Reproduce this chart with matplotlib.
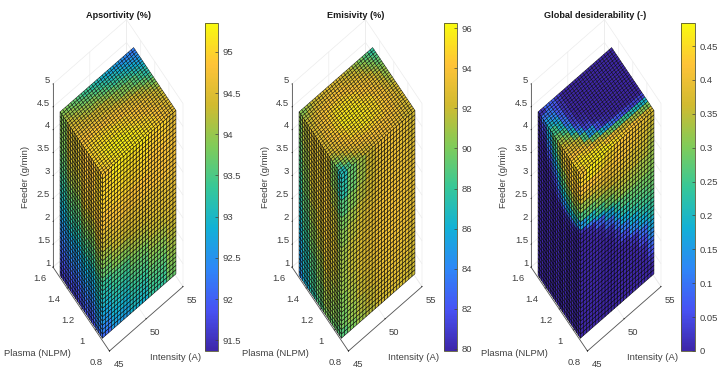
import numpy as np
import matplotlib
matplotlib.use("Agg")
import matplotlib.pyplot as plt
from matplotlib.colors import LinearSegmentedColormap, Normalize
from matplotlib.cm import ScalarMappable
from mpl_toolkits.mplot3d import proj3d

plt.rcParams['font.family'] = ['Liberation Sans', 'DejaVu Sans']
plt.rcParams['font.size'] = 6.8

W, H = 724, 376

# axis ranges and ticks
intensity_ticks = [45, 50, 55]
plasma_ticks = [0.8, 1, 1.2, 1.4, 1.6]
feeder_ticks = [1, 1.5, 2, 2.5, 3, 3.5, 4, 4.5, 5]
intensity_labels = ['45', '50', '55']
plasma_labels = ['0.8', '1', '1.2', '1.4', '1.6']
feeder_labels = ['1', '1.5', '2', '2.5', '3', '3.5', '4', '4.5', '5']

# the block that is sliced
box_intensity = [45, 55]
box_plasma = [0.9, 1.5]
box_feeder = [1.05, 4.62]

titles = ['Apsortivity (%)', 'Emisivity (%)', 'Global desiderability (-)']
cbar_limits = [(91.37, 95.35), (79.9, 96.25), (0, 0.484)]
cbar_ticks = [
    [91.5, 92, 92.5, 93, 93.5, 94, 94.5, 95],
    [80, 82, 84, 86, 88, 90, 92, 94, 96],
    [0, 0.05, 0.1, 0.15, 0.2, 0.25, 0.3, 0.35, 0.4, 0.45],
]
cbar_labels = [
    ['91.5', '92', '92.5', '93', '93.5', '94', '94.5', '95'],
    ['80', '82', '84', '86', '88', '90', '92', '94', '96'],
    ['0', '0.05', '0.1', '0.15', '0.2', '0.25', '0.3', '0.35', '0.4', '0.45'],
]

# top faces: rows go from plasma 0.9 to 1.5, columns from intensity 45 to 55
apsort_top = [
    [94.9, 95.0, 95.1, 95.15, 95.2, 95.2, 95.2, 95.15, 95.1, 95.0, 94.9, 94.75, 94.6],
    [95.0, 95.05, 95.15, 95.2, 95.25, 95.2, 95.2, 95.15, 95.05, 95.0, 94.85, 94.7, 94.55],
    [95.0, 95.1, 95.2, 95.25, 95.3, 95.25, 95.2, 95.1, 95.0, 94.9, 94.8, 94.65, 94.5],
    [95.0, 95.1, 95.15, 95.2, 95.2, 95.15, 95.1, 95.0, 94.9, 94.8, 94.7, 94.55, 94.4],
    [95.0, 95.05, 95.1, 95.1, 95.1, 95.05, 95.0, 94.9, 94.8, 94.7, 94.6, 94.45, 94.3],
    [94.9, 95.0, 95.0, 95.0, 94.95, 94.9, 94.85, 94.75, 94.65, 94.5, 94.4, 94.25, 94.05],
    [94.8, 94.85, 94.9, 94.85, 94.8, 94.75, 94.7, 94.6, 94.5, 94.35, 94.2, 94.0, 93.8],
    [94.7, 94.7, 94.7, 94.65, 94.6, 94.5, 94.45, 94.3, 94.2, 94.05, 93.9, 93.7, 93.5],
    [94.6, 94.55, 94.5, 94.45, 94.4, 94.3, 94.2, 94.05, 93.9, 93.75, 93.6, 93.4, 93.2],
    [94.45, 94.35, 94.25, 94.15, 94.15, 94.0, 93.9, 93.75, 93.6, 93.45, 93.3, 93.1, 92.95],
    [94.3, 94.2, 94.1, 94.0, 93.9, 93.75, 93.6, 93.45, 93.3, 93.15, 93.0, 92.85, 92.7],
    [94.1, 94.0, 93.9, 93.75, 93.65, 93.5, 93.35, 93.2, 93.05, 92.9, 92.75, 92.6, 92.5],
    [93.9, 93.8, 93.7, 93.55, 93.4, 93.25, 93.1, 92.95, 92.8, 92.65, 92.5, 92.4, 92.3],
]
emis_top = [
    [87, 88.8, 90.5, 91.5, 92.5, 93, 93.5, 93.6, 93.7, 93.4, 93, 92.6, 92.3],
    [88.8, 90.5, 91.5, 92.4, 93.3, 93.7, 94, 94, 94, 93.7, 93.4, 92.9, 92.4],
    [90.5, 91.5, 92.5, 93.3, 94, 94.3, 94.5, 94.4, 94.3, 94, 93.7, 93.1, 92.5],
    [91.5, 92.4, 93.2, 94, 94.5, 94.8, 95, 94.9, 94.7, 94.3, 93.9, 93.2, 92.5],
    [92.5, 93.2, 93.8, 94.5, 95, 95.3, 95.5, 95.3, 95, 94.5, 94, 93.3, 92.5],
    [92.8, 93.5, 94.2, 94.9, 95.4, 95.6, 95.6, 95.4, 95, 94.5, 93.9, 93.1, 92.2],
    [93, 93.8, 94.5, 95.1, 95.7, 95.7, 95.7, 95.4, 95, 94.4, 93.8, 92.8, 91.8],
    [92.9, 93.7, 94.4, 95, 95.5, 95.5, 95.5, 95.2, 94.7, 94, 93.4, 92.3, 91.3],
    [92.8, 93.6, 94.3, 94.8, 95.3, 95.3, 95.2, 94.8, 94.3, 93.7, 93, 91.9, 90.8],
    [92.4, 93.2, 93.9, 94.4, 94.8, 94.8, 94.6, 94.2, 93.7, 93, 92.2, 91.2, 90.2],
    [92, 92.8, 93.5, 93.9, 94.3, 94.2, 94, 93.5, 93, 92.3, 91.5, 90.5, 89.5],
    [91.3, 92, 92.7, 93.1, 93.5, 93.5, 93.4, 92.9, 92.4, 91.6, 90.8, 89.8, 88.8],
    [90.5, 91.3, 92, 92.4, 92.8, 92.8, 92.8, 92.3, 91.7, 90.9, 90, 89, 88],
]
desir_top = [
    [.43, .45, .46, .47, .47, .46, .45, .44, .43, .42, .40, .38, .37],
    [.45, .46, .46, .46, .45, .43, .41, .38, .36, .34, .33, .31, .30],
    [.44, .45, .44, .42, .38, .34, .30, .27, .25, .23, .21, .20, .19],
    [.42, .42, .40, .35, .28, .20, .14, .10, .07, .05, .04, .04, .04],
    [.39, .38, .35, .26, .15, .06, .02, .01, 0, 0, 0, 0, 0],
    [.36, .34, .28, .15, .05, .01, 0, 0, 0, 0, 0, 0, 0],
    [.33, .30, .20, .08, .02, 0, 0, 0, 0, 0, 0, 0, 0],
    [.29, .25, .14, .04, .01, 0, 0, 0, 0, 0, 0, 0, 0],
    [.25, .20, .10, .03, 0, 0, 0, 0, 0, 0, 0, 0, 0],
    [.20, .16, .08, .02, 0, 0, 0, 0, 0, 0, 0, 0, 0],
    [.15, .12, .07, .02, 0, 0, 0, 0, 0, 0, 0, 0, 0],
    [.10, .10, .06, .02, 0, 0, 0, 0, 0, 0, 0, 0, 0],
    [.02, .08, .07, .03, 0, 0, 0, 0, 0, 0, 0, 0, 0],
]

# right faces (plasma 0.9): rows go from the top of the block down, columns intensity 45 to 55
apsort_right = [
    [94.9, 95.2, 95.2, 95.0, 94.6],
    [95.0, 95.15, 95.1, 94.95, 94.65],
    [95.0, 95.1, 95.05, 94.9, 94.7],
    [95.0, 95.05, 95.0, 94.85, 94.75],
    [94.95, 95.0, 94.95, 94.8, 94.75],
    [94.85, 94.9, 94.85, 94.8, 94.75],
    [94.75, 94.8, 94.8, 94.8, 94.75],
    [94.6, 94.7, 94.7, 94.7, 94.7],
    [94.45, 94.6, 94.6, 94.6, 94.65],
    [94.3, 94.45, 94.5, 94.55, 94.6],
    [94.1, 94.3, 94.4, 94.5, 94.55],
    [93.9, 94.1, 94.25, 94.4, 94.5],
    [93.7, 93.9, 94.1, 94.3, 94.45],
    [93.5, 93.7, 93.95, 94.2, 94.4],
    [93.3, 93.5, 93.8, 94.1, 94.3],
    [93.15, 93.35, 93.65, 93.95, 94.2],
    [93.0, 93.2, 93.5, 93.8, 94.1],
    [92.8, 93.05, 93.35, 93.65, 94.0],
    [92.6, 92.9, 93.2, 93.5, 93.9],
    [92.35, 92.75, 93.05, 93.4, 93.8],
    [92.1, 92.6, 92.9, 93.3, 93.7],
]
emis_right = [
    [87, 89.5, 91, 92.3, 93.5, 93.6, 93.5, 93, 92.3],
    [87.5, 89.5, 91, 92.2, 93, 93.3, 93.5, 93.1, 92.5],
    [89, 90.3, 91.5, 92.3, 93, 93.3, 93.5, 93.2, 92.8],
    [90, 91, 92, 92.7, 93.3, 93.4, 93.5, 93.3, 93],
    [90.5, 91.5, 92.3, 93, 93.5, 93.6, 93.7, 93.4, 93],
    [91, 91.8, 92.5, 93, 93.5, 93.6, 93.7, 93.4, 93],
    [91, 91.8, 92.5, 93, 93.5, 93.6, 93.7, 93.4, 93],
    [90.7, 91.5, 92.3, 92.8, 93.3, 93.4, 93.5, 93.2, 92.8],
    [90.3, 91.2, 92, 92.5, 93, 93.2, 93.3, 93, 92.5],
    [89.8, 90.7, 91.5, 92, 92.6, 92.8, 93, 92.6, 92.2],
    [89, 90, 91, 91.6, 92.2, 92.4, 92.6, 92.3, 92],
]
desir_right = [
    [.43, .47, .47, .45, .43, .42, .40, .39, .37],
    [.44, .46, .45, .44, .43, .41, .40, .38, .36],
    [.42, .42, .43, .43, .42, .41, .39, .37, .35],
    [.37, .38, .39, .40, .40, .39, .37, .36, .34],
    [.32, .33, .35, .37, .38, .37, .36, .35, .33],
    [.26, .28, .31, .33, .35, .35, .34, .33, .32],
    [.15, .20, .25, .29, .32, .33, .32, .32, .31],
    [.02, .10, .18, .24, .28, .30, .30, .30, .30],
    [0, .01, .08, .17, .23, .27, .28, .29, .29],
    [0, 0, .01, .09, .17, .23, .26, .27, .28],
    [0, 0, 0, .02, .10, .18, .23, .25, .26],
    [0, 0, 0, 0, .03, .11, .18, .22, .24],
    [0, 0, 0, 0, .01, .05, .13, .18, .22],
    [0, 0, 0, 0, 0, .01, .07, .14, .19],
    [0, 0, 0, 0, 0, 0, .02, .09, .17],
    [0, 0, 0, 0, 0, 0, 0, .05, .13],
    [0, 0, 0, 0, 0, 0, 0, .01, .09],
    [0, 0, 0, 0, 0, 0, 0, 0, .06],
    [0, 0, 0, 0, 0, 0, 0, 0, .02],
    [0, 0, 0, 0, 0, 0, 0, 0, 0],
    [0, 0, 0, 0, 0, 0, 0, 0, 0],
]

# left faces (intensity 45): rows from the top down, columns plasma 0.9 to 1.5
apsort_left = [
    [94.9, 94.8, 94.4, 93.9],
    [95.0, 94.8, 94.4, 93.9],
    [95.0, 94.8, 94.4, 93.9],
    [95.0, 94.75, 94.35, 93.85],
    [95.0, 94.7, 94.3, 93.8],
    [94.9, 94.6, 94.2, 93.7],
    [94.8, 94.5, 94.1, 93.6],
    [94.65, 94.35, 93.95, 93.5],
    [94.5, 94.2, 93.8, 93.4],
    [94.3, 94.0, 93.65, 93.25],
    [94.1, 93.8, 93.5, 93.1],
    [93.9, 93.6, 93.3, 92.95],
    [93.7, 93.4, 93.1, 92.8],
    [93.5, 93.2, 92.9, 92.65],
    [93.3, 93.0, 92.7, 92.5],
    [93.15, 92.8, 92.55, 92.35],
    [93.0, 92.6, 92.4, 92.2],
    [92.8, 92.4, 92.2, 92.05],
    [92.6, 92.2, 92.0, 91.9],
    [92.35, 92.0, 91.8, 91.7],
    [92.1, 91.8, 91.6, 91.5],
]
emis_left = [
    [87, 90, 92.5, 92.8, 93, 91.8, 90.5],
    [87.5, 90.3, 92.5, 92.7, 92.8, 91.5, 90],
    [89, 91.2, 93, 92.8, 92.5, 91, 89.3],
    [90, 91.8, 93.2, 92.8, 92.2, 90.5, 88.7],
    [90.5, 92, 93.2, 92.5, 91.8, 90, 88],
    [91, 92.2, 93, 92.2, 91.2, 89.3, 87.3],
    [91, 92, 92.7, 91.7, 90.5, 88.6, 86.6],
    [90.7, 91.6, 92.2, 91, 89.8, 88, 86],
    [90.3, 91, 91.7, 90.4, 89, 87.2, 85.4],
    [89.8, 90.5, 91, 89.7, 88.4, 86.7, 85],
    [89, 89.6, 90, 88.8, 87.6, 86, 84.4],
]
desir_left = [
    [.43, .45, .44, .40, .35, .28, .20, .10, .01],
    [.44, .44, .42, .38, .32, .25, .16, .05, 0],
    [.42, .43, .40, .35, .28, .21, .11, .02, 0],
    [.37, .39, .36, .31, .24, .15, .06, 0, 0],
    [.32, .34, .31, .26, .19, .10, .02, 0, 0],
    [.26, .28, .25, .20, .13, .05, 0, 0, 0],
    [.15, .20, .18, .13, .07, .02, 0, 0, 0],
    [.02, .09, .09, .06, .02, 0, 0, 0, 0],
    [0, .01, .02, .01, 0, 0, 0, 0, 0],
    [0, 0, 0, 0, 0, 0, 0, 0, 0],
    [0, 0, 0, 0, 0, 0, 0, 0, 0],
    [0, 0, 0, 0, 0, 0, 0, 0, 0],
    [0, 0, 0, 0, 0, 0, 0, 0, 0],
    [0, 0, 0, 0, 0, 0, 0, 0, 0],
    [0, 0, 0, 0, 0, 0, 0, 0, 0],
    [0, 0, 0, 0, 0, 0, 0, 0, 0],
    [0, 0, 0, 0, 0, 0, 0, 0, 0],
    [0, 0, 0, 0, 0, 0, 0, 0, 0],
    [0, 0, 0, 0, 0, 0, 0, 0, 0],
    [0, 0, 0, 0, 0, 0, 0, 0, 0],
    [0, 0, 0, 0, 0, 0, 0, 0, 0],
]

tops = [apsort_top, emis_top, desir_top]
rights = [apsort_right, emis_right, desir_right]
lefts = [apsort_left, emis_left, desir_left]

# parula
parula = LinearSegmentedColormap.from_list('parula', [
    (0.0, (0.2422, 0.1504, 0.6603)),
    (0.125, (0.2810, 0.3228, 0.9579)),
    (0.25, (0.1786, 0.5289, 0.9682)),
    (0.375, (0.0689, 0.6948, 0.8394)),
    (0.5, (0.2161, 0.7843, 0.5923)),
    (0.625, (0.5044, 0.7993, 0.3480)),
    (0.75, (0.8185, 0.7327, 0.1882)),
    (0.875, (0.9990, 0.7653, 0.2164)),
    (1.0, (0.9763, 0.9831, 0.0538)),
])

n_i, n_p, n_z = 24, 24, 38  # mesh cells along each side
n_top = 28
TEXT = '#404040'
offsets = [0, 239, 478]
cbar_x = [(205, 218), (444, 457), (681, 695)]
feeder_x = [26, 265, 503]
plasma_x = [37, 275, 514]
intensity_x = [176, 414, 653]
title_x = [118, 356, 595]


def pick(table, rows, cols):
    # every mesh cell takes the colour of the table entry it falls in
    table = np.asarray(table, dtype=float)
    r = np.round(np.arange(rows) / (rows - 1) * (table.shape[0] - 1)).astype(int)
    c = np.round(np.arange(cols) / (cols - 1) * (table.shape[1] - 1)).astype(int)
    return table[np.ix_(r, c)]


def face(ax, X, Y, Z, vals, norm, lw=0.36):
    ax.plot_surface(X, Y, Z, facecolors=parula(norm(vals)), rstride=1, cstride=1,
                    edgecolor='black', linewidth=lw, shade=False, antialiased=True)


def place(ax, dx):
    # stretch the cube so that its corners land where they should
    ax.set_position([0, 0, 1, 1])
    M = ax.get_proj()
    def axes_xy(x, y, z):
        u, v, _ = proj3d.proj_transform(x, y, z, M)
        return ax.transAxes.inverted().transform(ax.transData.transform((u, v)))
    left = axes_xy(45, 1.6, 1)
    right = axes_xy(55, 0.8, 1)
    front = axes_xy(45, 0.8, 1)
    top = axes_xy(45, 1.6, 5)
    w = (183 - 53) / (right[0] - left[0])
    h = (351 - 84) / (top[1] - front[1])
    x0 = 53 + dx - left[0] * w
    y0 = (H - 351) - front[1] * h
    ax.set_position([x0 / W, y0 / H, w / W, h / H])


def label_3d(ax, x, y, z, s, ha='center'):
    # tick label at a 3D point, put on the figure so it stays plain 2D text
    u, v, _ = proj3d.proj_transform(x, y, z, ax.get_proj())
    px, py = ax.transData.transform((u, v))
    fig.text(px / W, py / H, s, ha=ha, va='center', color=TEXT)


fig = plt.figure(figsize=(W / 100, H / 100), dpi=100)

for k in range(3):
    ax = fig.add_subplot(1, 3, k + 1, projection='3d', proj_type='ortho')
    ax.apply_aspect = lambda position=None: None
    ax.view_init(elev=30, azim=-127.5)
    ax.set_box_aspect((1, 1, 1), zoom=1)
    ax.set_xlim(45, 55, view_margin=0)
    ax.set_ylim(0.8, 1.6, view_margin=0)
    ax.set_zlim(1, 5, view_margin=0)
    ax.patch.set_alpha(0)

    norm = Normalize(*cbar_limits[k])
    xe = np.linspace(*box_intensity, n_i + 1)
    ye = np.linspace(*box_plasma, n_p + 1)
    ze = np.linspace(*box_feeder, n_z + 1)

    X, Y = np.meshgrid(np.linspace(*box_intensity, n_top + 1), np.linspace(*box_plasma, n_top + 1))
    face(ax, X, Y, np.full(X.shape, box_feeder[1]), pick(tops[k], n_top, n_top), norm, lw=0.3)
    X, Z = np.meshgrid(xe, ze)
    face(ax, X, np.full(X.shape, box_plasma[0]), Z, pick(rights[k], n_z, n_i)[::-1], norm)
    Y, Z = np.meshgrid(ye, ze)
    face(ax, np.full(Y.shape, box_intensity[0]), Y, Z, pick(lefts[k], n_z, n_p)[::-1], norm)

    ax.set_xticks(intensity_ticks)
    ax.set_yticks(plasma_ticks)
    ax.set_zticks(feeder_ticks)
    for axis in (ax.xaxis, ax.yaxis, ax.zaxis):
        axis.set_tick_params(label1On=False)
        axis.set_pane_color((1, 1, 1, 0))
        axis.pane.set_edgecolor('#e6e6e6')
        axis.line.set_color('#555555')
        axis.line.set_linewidth(0.6)
        axis._axinfo['grid']['color'] = '#ececec'
        axis._axinfo['grid']['linewidth'] = 0.5
        axis._axinfo['tick']['inward_factor'] = 0
        axis._axinfo['tick']['outward_factor'] = 0.06
        axis._axinfo['tick']['linewidth'] = {True: 0.5, False: 0.5}
        axis._axinfo['tick']['color'] = '#555555'

    place(ax, offsets[k])

    # tick labels sit at a small data offset from their tick
    for v, s in zip(intensity_ticks, intensity_labels):
        label_3d(ax, v, 0.8 - 0.13, 1, s)
    for v, s in zip(plasma_ticks, plasma_labels):
        label_3d(ax, 45 - 1.8, v, 1, s)
    for v, s in zip(feeder_ticks, feeder_labels):
        label_3d(ax, 45 - 0.4, 1.6, v + 0.14, s, ha='right')

    x0, x1 = cbar_x[k]
    cax = fig.add_axes([x0 / W, (H - 351) / H, (x1 - x0) / W, (351 - 23) / H])
    cb = fig.colorbar(ScalarMappable(norm=norm, cmap=parula), cax=cax)
    cb.set_ticks(cbar_ticks[k], labels=cbar_labels[k])
    cax.tick_params(direction='in', length=2, width=0.5, colors=TEXT, labelsize=6.8, pad=3)
    cb.outline.set_linewidth(0.6)
    cb.outline.set_edgecolor('#555533')

    fig.text(title_x[k] / W, 1 - 15 / H, titles[k], ha='center', va='center',
             fontsize=6.6, fontweight='bold', color='#1a1a1a')
    fig.text(feeder_x[k] / W, 1 - 177 / H, 'Feeder (g/min)', rotation=90,
             ha='center', va='center', color=TEXT)
    fig.text(plasma_x[k] / W, 1 - 353 / H, 'Plasma (NLPM)', ha='center', va='center', color=TEXT)
    fig.text(intensity_x[k] / W, 1 - 358 / H, 'Intensity (A)', ha='center', va='center', color=TEXT)

fig.savefig('out.png', dpi=100)
